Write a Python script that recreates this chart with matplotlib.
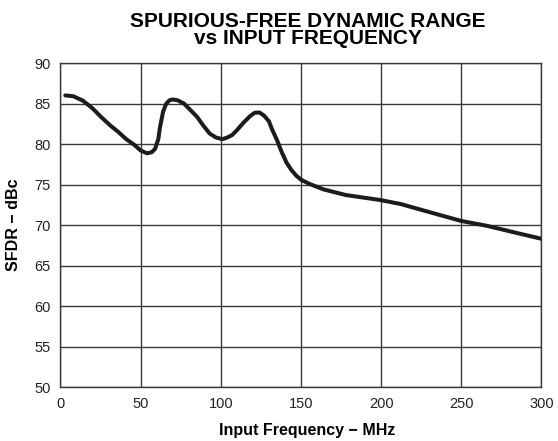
import matplotlib
matplotlib.use("Agg")
import matplotlib.pyplot as plt

plt.rcParams['font.family'] = ['Liberation Sans', 'DejaVu Sans']

freq_mhz = [3, 8, 14, 20, 25, 31, 36, 41, 46, 50, 54, 57, 59, 61, 62, 64, 66,
            68, 70, 73, 77, 81, 85, 89, 93, 97, 101, 104, 107, 110, 114, 118,
            121, 124, 127, 130, 132, 135, 138, 141, 144, 147, 150, 155, 164,
            178, 199, 212, 230, 250, 266, 285, 300]
sfdr_dbc = [86.0, 85.9, 85.35, 84.4, 83.4, 82.3, 81.5, 80.6, 79.9, 79.2, 78.85,
            79.0, 79.4, 80.6, 82.0, 84.0, 85.0, 85.4, 85.5, 85.4, 85.0, 84.2,
            83.4, 82.3, 81.3, 80.8, 80.6, 80.8, 81.1, 81.7, 82.6, 83.4, 83.85,
            83.9, 83.5, 82.8, 81.8, 80.5, 79.0, 77.7, 76.8, 76.1, 75.6, 75.1,
            74.4, 73.7, 73.1, 72.6, 71.6, 70.5, 69.9, 69.0, 68.3]

fig = plt.figure(figsize=(5.58, 4.41), dpi=100)
ax = fig.add_axes([0.1084, 0.1224, 0.8620, 0.7347])

ax.plot(freq_mhz, sfdr_dbc, color='#1e1b1c', linewidth=2.9,
        solid_joinstyle='round', solid_capstyle='round', zorder=3)

ax.set_xlim(0, 300)
ax.set_ylim(50, 90)
ax.set_xticks(range(0, 301, 50))
ax.set_yticks(range(50, 91, 5))
ax.grid(True, color='#3a3a3a', linewidth=1.0)
ax.tick_params(length=0, pad=7, labelsize=10.5, labelcolor='#222222')
for s in ax.spines.values():
    s.set_color('#3a3a3a')
    s.set_linewidth(1.0)

ax.set_xlabel("Input Frequency \u2212 MHz", fontsize=11.5, fontweight='bold',
              va='baseline')
ax.xaxis.set_label_coords(0.512, -0.148)
ax.set_ylabel("SFDR \u2212 dBc", fontsize=11.5, fontweight='bold', va='center')
ax.yaxis.set_label_coords(-0.098, 0.5)

# titolo su due righe, centrato come nell'originale
fig.text(308 / 558, 1 - 44 / 441, "SPURIOUS-FREE DYNAMIC RANGE\nvs INPUT FREQUENCY",
         ha='center', va='baseline', fontsize=15, fontweight='bold',
         linespacing=0.86, multialignment='center')

fig.savefig("out.png", dpi=100)
